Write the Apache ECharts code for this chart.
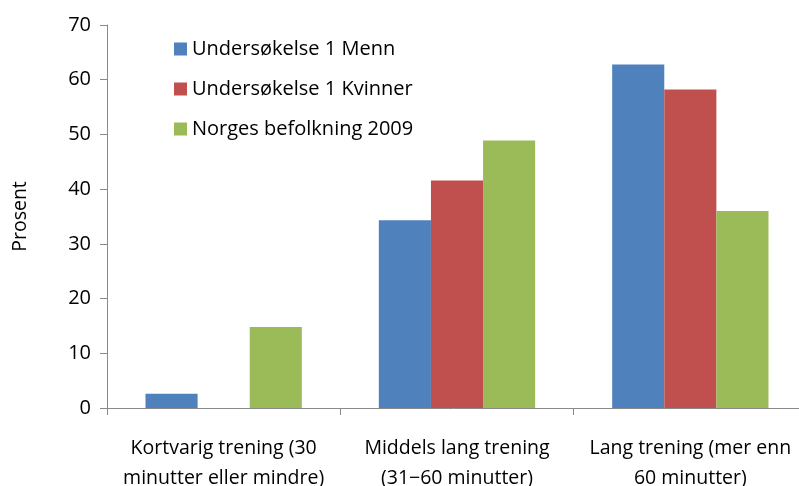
<!DOCTYPE html>
<html>
<head>
<meta charset="utf-8">
<script src="https://cdn.jsdelivr.net/npm/echarts@6/dist/echarts.min.js"></script>
<style>
  html, body { margin: 0; padding: 0; background: #fff; }
  #chart { width: 799px; height: 486px; }
</style>
</head>
<body>
<div id="chart"></div>
<script>
// categories and series values
const categories = [
  'Kortvarig trening (30\nminutter eller mindre)',
  'Middels lang trening\n(31\u221260 minutter)',
  'Lang trening (mer enn\n60 minutter)'
];
const menn = [2.6, 34.3, 62.8];
const kvinner = [0, 41.6, 58.2];
const befolkning = [14.8, 48.9, 36.0];
const yTicks = [0, 10, 20, 30, 40, 50, 60, 70];

const font = 'Open Sans';
const chart = echarts.init(document.getElementById('chart'));

const mkSeries = (name, data, color) => ({
  name,
  type: 'bar',
  data,
  barGap: '0%',
  barCategoryGap: '33%',
  itemStyle: { color },
  animation: false
});

chart.setOption({
  animation: false,
  textStyle: { fontFamily: font },
  legend: {
    orient: 'vertical',
    left: 169,
    top: 34,
    itemWidth: 13,
    itemHeight: 13,
    itemGap: 20,
    icon: 'rect',
    textStyle: { fontFamily: font, fontSize: 20, color: '#000' },
    data: ['Undersøkelse 1 Menn', 'Undersøkelse 1 Kvinner', 'Norges befolkning 2009']
  },
  grid: { left: 107, top: 25, width: 700, height: 383, outerBoundsMode: 'none', containLabel: false },
  xAxis: {
    type: 'category',
    data: categories,
    axisLine: { lineStyle: { color: '#898989', width: 1 } },
    axisTick: { show: true, length: 7, inside: false, lineStyle: { color: '#898989' } },
    axisLabel: {
      color: '#000',
      fontFamily: font,
      fontSize: 19.5,
      lineHeight: 30,
      margin: 25,
      interval: 0
    }
  },
  yAxis: {
    type: 'value',
    min: yTicks[0],
    max: yTicks[yTicks.length - 1],
    interval: 10,
    name: 'Prosent',
    nameLocation: 'middle',
    nameRotate: 90,
    nameGap: 77,
    nameTextStyle: { color: '#000', fontFamily: font, fontSize: 19.5 },
    splitLine: { show: false },
    axisLine: { show: true, lineStyle: { color: '#898989', width: 1 } },
    axisTick: { show: true, length: 7, lineStyle: { color: '#898989' } },
    axisLabel: { color: '#000', fontFamily: font, fontSize: 20, margin: 16 }
  },
  series: [
    mkSeries('Undersøkelse 1 Menn', menn, '#4F81BD'),
    mkSeries('Undersøkelse 1 Kvinner', kvinner, '#C0504D'),
    mkSeries('Norges befolkning 2009', befolkning, '#9BBB59')
  ]
});
</script>
</body>
</html>
